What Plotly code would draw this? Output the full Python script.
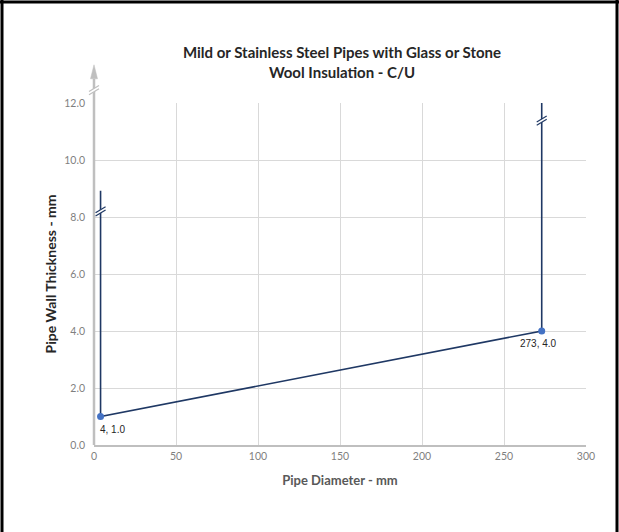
import plotly.graph_objects as go

# ---- data ----
pipe_diameter = [4, 4, 273, 273]
wall_thickness = [8.92, 1.0, 4.0, 12.08]
point_x = [4, 273]
point_y = [1.0, 4.0]
point_labels = ["4, 1.0", "273, 4.0"]
x_ticks = [0, 50, 100, 150, 200, 250, 300]
y_ticks = [0, 2, 4, 6, 8, 10, 12]
y_tick_labels = ["0.0", "2.0", "4.0", "6.0", "8.0", "10.0", "12.0"]
line_breaks = [(4, 8.2), (273, 11.38)]   # break markers on the series
axis_break_y = 12.45
axis_top_y = 12.85
Y_MAX = 12

W, H = 619, 532
ML, MR, MT, MB = 94, 33, 103, 87
PW, PH = W - ML - MR, H - MT - MB

NAVY = "#1f3864"
BLUE = "#4472c4"
GRID = "#d9d9d9"
AXIS = "#bfbfbf"
FONT = "Lato"

fig = go.Figure()

# series line
fig.add_trace(go.Scatter(x=pipe_diameter, y=wall_thickness, mode="lines",
                         line=dict(color=NAVY, width=1.6), cliponaxis=False,
                         hoverinfo="skip", showlegend=False))
# points
fig.add_trace(go.Scatter(x=point_x, y=point_y, mode="markers",
                         marker=dict(color=BLUE, size=7), cliponaxis=False,
                         showlegend=False))

# y-axis extended line + arrow head (paper refs so they are not clipped)
fig.add_shape(type="line", xref="paper", yref="paper", x0=0, x1=0, y0=0, y1=axis_top_y / Y_MAX,
              line=dict(color=AXIS, width=2.5), layer="above")
fig.add_shape(type="path", xref="paper", yref="paper", xsizemode="pixel", ysizemode="pixel",
              xanchor=0, yanchor=axis_top_y / Y_MAX,
              path="M -3.5 0 L 3.5 0 L 0 14 Z",
              fillcolor=AXIS, line=dict(color=AXIS, width=0.5), layer="above")


def add_break(xv, yv, color, xref="x", width=1.2):
    # white gap then two slashes
    kw = dict(type="line", xref=xref, yref="paper", xsizemode="pixel", ysizemode="pixel",
              xanchor=xv, yanchor=yv / Y_MAX, layer="above")
    fig.add_shape(x0=-5, x1=5, y0=-3, y1=3, line=dict(color="white", width=3), **kw)
    for off in (-1.6, 1.6):
        fig.add_shape(x0=-5, x1=5, y0=-3 + off, y1=3 + off,
                      line=dict(color=color, width=width), **kw)


for bx, by in line_breaks:
    add_break(bx, by, NAVY)
add_break(0, axis_break_y, AXIS, xref="paper")

# data labels
fig.add_annotation(x=point_x[0], y=point_y[0], text=point_labels[0], showarrow=False,
                   xanchor="left", yanchor="top", xshift=-3, yshift=-5,
                   font=dict(family="Liberation Sans", size=10, color="#262626"))
fig.add_annotation(x=point_x[1], y=point_y[1], text=point_labels[1], showarrow=False,
                   xanchor="center", yanchor="top", xshift=-3, yshift=-5,
                   font=dict(family="Liberation Sans", size=10, color="#262626"))


# outer border (top, left, right)
def px_to_paper_x(px):
    return (px - ML) / PW


def py_to_paper_y(py):
    return (H - MB - py) / PH


for (x0, y0, x1, y1) in [(0, 2, W, 2), (2, 0, 2, H), (W - 2, 0, W - 2, H)]:
    fig.add_shape(type="line", xref="paper", yref="paper",
                  x0=px_to_paper_x(x0), x1=px_to_paper_x(x1),
                  y0=py_to_paper_y(y0), y1=py_to_paper_y(y1),
                  line=dict(color="black", width=3))

fig.update_layout(
    width=W, height=H,
    margin=dict(l=ML, r=MR, t=MT, b=MB, pad=0),
    paper_bgcolor="white", plot_bgcolor="white",
    title=dict(text="<b>Mild or Stainless Steel Pipes with Glass or Stone<br>Wool Insulation - C/U</b>",
               x=(ML + PW / 2 + 2) / W, xanchor="center", y=1 - 58 / H, yanchor="middle",
               font=dict(family=FONT, size=15, color="#262626")),
    xaxis=dict(range=[0, 300], tickvals=x_ticks, showgrid=True, gridcolor=GRID, gridwidth=1,
               zeroline=False, showline=True, linecolor=AXIS, linewidth=2, ticks="",
               tickfont=dict(family=FONT, size=10.5, color="#7f7f7f"),
               title=dict(text="<b>Pipe Diameter - mm</b>", standoff=15,
                          font=dict(family=FONT, size=13, color="#595959"))),
    yaxis=dict(range=[0, Y_MAX], tickvals=y_ticks, ticktext=y_tick_labels, showgrid=True,
               gridcolor=GRID, gridwidth=1, zeroline=False, showline=False, ticks="",
               ticklabelstandoff=8,
               tickfont=dict(family=FONT, size=10.5, color="#7f7f7f"),
               title=dict(text="<b>Pipe Wall Thickness - mm</b>", standoff=4,
                          font=dict(family=FONT, size=14, color="#262626"))),
    showlegend=False,
)

fig.write_html("out.html", config={"displayModeBar": False},
               post_script="document.body.style.margin='0';")
